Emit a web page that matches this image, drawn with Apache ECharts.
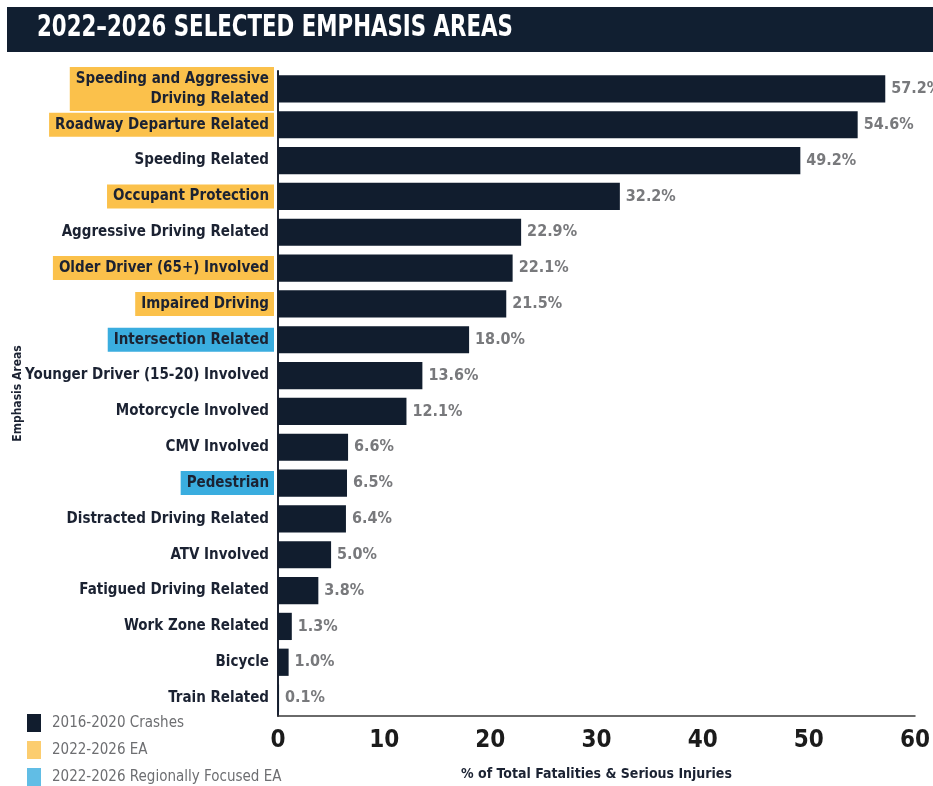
<!DOCTYPE html>
<html>
<head>
<meta charset="utf-8">
<script src="https://cdn.jsdelivr.net/npm/echarts@6/dist/echarts.min.js"></script>
<style>
  html, body { margin: 0; padding: 0; background: #fff; }
  #chart { width: 933px; height: 786px; }
</style>
</head>
<body>
<div id="chart"></div>
<script>
// Emphasis areas, top to bottom
const categories = [
  'Speeding and Aggressive\nDriving Related',
  'Roadway Departure Related',
  'Speeding Related',
  'Occupant Protection',
  'Aggressive Driving Related',
  'Older Driver (65+) Involved',
  'Impaired Driving',
  'Intersection Related',
  'Younger Driver (15-20) Involved',
  'Motorcycle Involved',
  'CMV Involved',
  'Pedestrian',
  'Distracted Driving Related',
  'ATV Involved',
  'Fatigued Driving Related',
  'Work Zone Related',
  'Bicycle',
  'Train Related'
];
// % of total fatalities & serious injuries, 2016-2020 crashes
const crashShare = [57.2, 54.6, 49.2, 32.2, 22.9, 22.1, 21.5, 18.0, 13.6, 12.1, 6.6, 6.5, 6.4, 5.0, 3.8, 1.3, 1.0, 0.1];
// Areas selected for 2022-2026
const selectedEA = ['Speeding and Aggressive\nDriving Related', 'Roadway Departure Related', 'Occupant Protection', 'Older Driver (65+) Involved', 'Impaired Driving'];
const regionalEA = ['Intersection Related', 'Pedestrian'];
const legendNames = ['2016-2020 Crashes', '2022-2026 EA', '2022-2026 Regionally Focused EA'];
const xTicks = [0, 10, 20, 30, 40, 50, 60];

const NAVY = '#111d2e';
const YELLOW = '#fbc14b';
const BLUE = '#3aaddf';
const FONT = "'DejaVu Sans Condensed', 'Liberation Sans Narrow', 'Roboto', sans-serif";

const chart = echarts.init(document.getElementById('chart'), null, { renderer: 'canvas' });

// category items carry their own highlight box
const yItems = categories.map(function (name) {
  let bg = null;
  if (selectedEA.indexOf(name) >= 0) bg = YELLOW;
  else if (regionalEA.indexOf(name) >= 0) bg = BLUE;
  return bg ? { value: name, textStyle: { backgroundColor: bg } } : name;
});

// one legend block per entry so they stack as a single column
const legends = legendNames.map(function (name, i) {
  return {
    orient: 'vertical', left: 22, top: 709 + i * 27,
    itemWidth: 14, itemHeight: 18,
    icon: 'rect',
    data: [name],
    selectedMode: false,
    textStyle: { fontFamily: FONT, fontSize: 15, color: '#6d6e71', padding: [0, 0, 0, 6] }
  };
});

chart.setOption({
  animation: false,
  textStyle: { fontFamily: FONT },
  graphic: [
    { type: 'rect', left: 7, top: 7, shape: { width: 926, height: 45 }, style: { fill: '#111f31' } },
    {
      type: 'text', x: 37, y: 13, scaleX: 0.79,
      style: { text: '2022–2026 SELECTED EMPHASIS AREAS', fill: '#ffffff', font: "bold 30px " + FONT }
    }
  ],
  legend: legends,
  grid: { left: 278, right: 18, top: 71, bottom: 70, outerBoundsMode: 'none', containLabel: false },
  xAxis: {
    type: 'value', min: xTicks[0], max: xTicks[xTicks.length - 1], interval: 10,
    name: '% of Total Fatalities & Serious Injuries',
    nameLocation: 'middle', nameGap: 51, nameMoveOverlap: false,
    nameTextStyle: { fontFamily: FONT, fontSize: 14, fontWeight: 'bold', color: '#1b2232' },
    axisLine: { show: true, lineStyle: { color: '#3a3a3a', width: 1.5 } },
    axisTick: { show: false },
    splitLine: { show: false },
    axisLabel: { fontFamily: FONT, fontSize: 24, fontWeight: 'bold', color: '#1b1b1b', margin: 13 }
  },
  yAxis: {
    type: 'category', inverse: true, data: yItems,
    name: 'Emphasis Areas', nameLocation: 'middle', nameRotate: 90, nameGap: 254, nameMoveOverlap: false,
    nameTextStyle: { fontFamily: FONT, fontSize: 12, fontWeight: 'bold', color: '#1b2232' },
    axisLine: { show: true, lineStyle: { color: '#1b2232', width: 2 } },
    axisTick: { show: false },
    axisLabel: {
      margin: 4,
      fontFamily: FONT, fontSize: 15, fontWeight: 'bold', color: '#1b2232',
      lineHeight: 20,
      padding: [2, 5, 2, 6]
    }
  },
  series: [
    {
      name: legendNames[0], type: 'bar', data: crashShare,
      barWidth: '76%',
      itemStyle: { color: NAVY },
      label: {
        show: true, position: 'right', distance: 6,
        formatter: function (p) { return p.value.toFixed(1) + '%'; },
        fontFamily: FONT, fontSize: 16, fontWeight: 'bold', color: '#78797c'
      }
    },
    { name: legendNames[1], type: 'scatter', data: [], itemStyle: { color: YELLOW } },
    { name: legendNames[2], type: 'scatter', data: [], itemStyle: { color: BLUE } }
  ]
});
</script>
</body>
</html>
